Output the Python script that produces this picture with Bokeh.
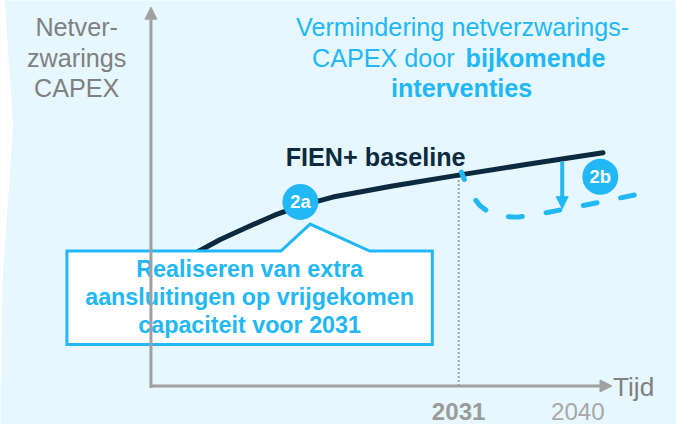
from bokeh.plotting import figure
from bokeh.models import Range1d, Arrow, NormalHead, ColumnDataSource
from bokeh.core.properties import value
from bokeh.embed import file_html
from bokeh.resources import INLINE

# ---------------- data ----------------
# FIEN+ baseline (netverzwarings-CAPEX index over time)
baseline_years = [2011.3, 2013.0, 2014.9, 2017.1, 2019.1, 2021.5, 2025.9, 2031.0, 2036.2, 2041.9]
baseline_capex = [34.8, 38.0, 41.0, 44.3, 46.8, 49.0, 51.8, 54.7, 57.5, 60.5]

# Reduced CAPEX after 2031 (dashed, 2b)
reduced_years = [2031.2, 2031.5, 2032.0, 2032.6, 2033.3, 2034.2, 2035.5, 2037.7, 2040.7, 2044.9]
reduced_capex = [55.5, 53.0, 49.5, 46.8, 45.0, 44.0, 43.8, 45.0, 47.0, 50.0]

tick_years = [2031, 2040]
tick_labels = ["2031", "2040"]
tick_styles = ["bold", "normal"]
tick_colors = ["#9B9B9B", "#A8A8A8"]

y_label_lines = ["Netver-", "zwarings", "CAPEX"]
callout_lines = ["Realiseren van extra", "aansluitingen op vrijgekomen", "capaciteit voor 2031"]
title_line1 = "Vermindering netverzwarings-"
title_line2_normal = "CAPEX door"
title_line2_bold = "bijkomende"
title_line3 = "interventies"

# ---------------- layout helpers ----------------
# layout positions are given in the reference's pixel grid (692 x 440)
PX_PER_YEAR = 13.556
PX_PER_UNIT = 4.0
W, H = 676, 424


def X(px):
    return 2031 + (px - 469) / PX_PER_YEAR


def Y(py):
    return (400 - py) / PX_PER_UNIT


def TB(py, size):
    # text baseline position, compensating the renderer's baseline offset
    return Y(py - 0.4 * size)


X0, X1 = X(0), X(692)
Y0, Y1 = Y(440), Y(0)
FS = 0.97  # font scale from the reference grid to the canvas

BG = "#E6F7FF"
BLUE = "#22B7F5"
NAVY = "#0B2A3E"
AXIS = "#A0A0A0"
GREY_TXT = "#808080"
FONT = value("Liberation Sans")


def fs(v):
    return f"{v * FS:.1f}px"


p = figure(width=W, height=H, x_range=Range1d(X0, X1), y_range=Range1d(Y0, Y1),
           output_backend="svg", toolbar_location=None,
           x_axis_location=None, y_axis_location=None, min_border=0)
p.grid.visible = False
p.outline_line_color = None
p.background_fill_color = BG
p.border_fill_color = BG

# white wedge on the left edge
p.patch([X(-2), X(4), X(13), X(2), X(0), X(-2)],
        [Y(-5), Y(-5), Y(130), Y(292), Y(445), Y(445)], fill_color="white", line_color=None)

# axes
x_axis_start = X(154)
p.add_layout(Arrow(end=NormalHead(size=12, fill_color=AXIS, line_color=AXIS, line_width=1),
                   x_start=x_axis_start, y_start=Y(402), x_end=x_axis_start, y_end=Y(7),
                   line_color=AXIS, line_width=3))
p.add_layout(Arrow(end=NormalHead(size=12, fill_color=AXIS, line_color=AXIS, line_width=1),
                   x_start=x_axis_start, y_start=0, x_end=X(626), y_end=0,
                   line_color=AXIS, line_width=3))

# dotted line at 2031
p.line([tick_years[0], tick_years[0]], [0, Y(183)], line_color=AXIS, line_width=2, line_dash="2 2")

# baseline curve
p.line(baseline_years, baseline_capex, line_color=NAVY, line_width=5, line_cap="round", line_join="round")

# reduced dashed curve
p.line(reduced_years, reduced_capex, line_color=BLUE, line_width=5, line_dash="14 24",
       line_dash_offset=6, line_cap="round", line_join="round")

# reduction arrow (2b)
p.add_layout(Arrow(end=NormalHead(size=12, fill_color=BLUE, line_color=BLUE, line_width=1),
                   x_start=X(575), y_start=Y(167), x_end=X(575), y_end=Y(216),
                   line_color=BLUE, line_width=4))

# callout box
bx = [X(68), X(287), X(317), X(378), X(442), X(442), X(68)]
by = [Y(260), Y(260), Y(232), Y(260), Y(260), Y(357), Y(357)]
p.patch(bx, by, fill_color="white", line_color=BLUE, line_width=3, line_join="miter")

# numbered circles
p.scatter([X(307), X(614)], [Y(209), Y(183)], size=36, marker="circle", fill_color=BLUE, line_color=None)
p.text([X(307), X(614)], [TB(216, 19), TB(190, 19)], text=["2a", "2b"], text_font=FONT, text_font_size=fs(19),
       text_font_style="bold", text_color="white", text_align="center", text_baseline="alphabetic")

# y-axis label
p.text([X(78)] * 3, [TB(38, 26), TB(70, 26), TB(101, 26)], text=y_label_lines, text_font=FONT,
       text_font_size=fs(26), text_color=GREY_TXT, text_align="center", text_baseline="alphabetic")

# title
p.text([X(473)], [TB(38, 26)], text=[title_line1], text_font=FONT, text_font_size=fs(26),
       text_color=BLUE, text_align="center", text_baseline="alphabetic")
p.text([X(465)], [TB(70, 26)], text=[title_line2_normal], text_font=FONT, text_font_size=fs(26),
       text_color=BLUE, text_align="right", text_baseline="alphabetic")
p.text([X(476)], [TB(70, 26)], text=[title_line2_bold], text_font=FONT, text_font_size=fs(26),
       text_font_style="bold", text_color=BLUE, text_align="left", text_baseline="alphabetic")
p.text([X(472)], [TB(101, 26)], text=[title_line3], text_font=FONT, text_font_size=fs(26),
       text_font_style="bold", text_color=BLUE, text_align="center", text_baseline="alphabetic")

# FIEN+ baseline label
p.text([X(384)], [TB(173, 26)], text=["FIEN+ baseline"], text_font=FONT, text_font_size=fs(26),
       text_font_style="bold", text_color=NAVY, text_align="center", text_baseline="alphabetic")

# callout text
p.text([X(255)] * 3, [TB(288, 24), TB(317, 24), TB(346, 24)], text=callout_lines, text_font=FONT,
       text_font_size=fs(24), text_font_style="bold", text_color=BLUE, text_align="center",
       text_baseline="alphabetic")

# x tick labels
tick_src = ColumnDataSource(dict(x=tick_years, y=[TB(437, 25)] * len(tick_years), text=tick_labels,
                                 style=tick_styles, color=tick_colors))
p.text(x="x", y="y", text="text", source=tick_src, text_font=FONT, text_font_size=fs(25),
       text_font_style="style", text_color="color", text_align="center", text_baseline="alphabetic")

# axis title
p.text([X(627)], [TB(412, 27)], text=["Tijd"], text_font=FONT, text_font_size=fs(27),
       text_color=GREY_TXT, text_align="left", text_baseline="alphabetic")

open("out.html", "w").write(file_html(p, INLINE))
